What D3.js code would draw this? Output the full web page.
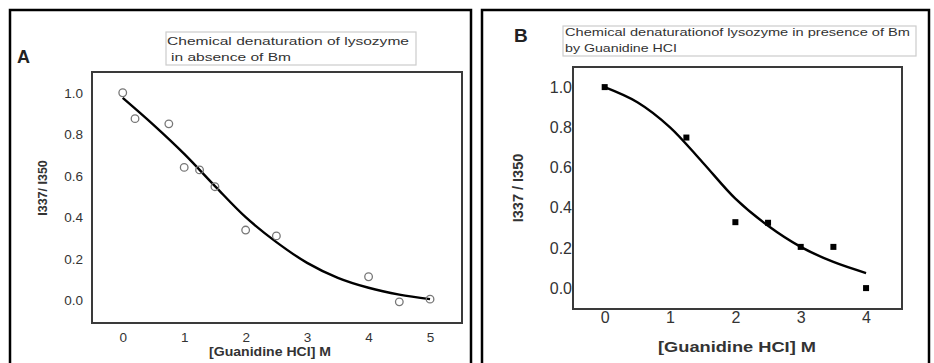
<!DOCTYPE html>
<html>
<head>
<meta charset="utf-8">
<script src="https://cdn.jsdelivr.net/npm/d3@7"></script>
<style>
  body { margin: 0; background: #fff; }
  svg { display: block; font-family: "Liberation Sans", Arial, sans-serif; }
</style>
</head>
<body>
<svg id="chart" width="934" height="363"></svg>
<script>
// panel A: absence of Bm (open circles)
const concA = [0, 0.2, 0.75, 1.0, 1.25, 1.5, 2.0, 2.5, 4.0, 4.5, 5.0];
const ratioA = [1.0, 0.875, 0.85, 0.64, 0.628, 0.547, 0.338, 0.31, 0.113, -0.008, 0.005];
const fitConcA = [0, 0.5, 1, 1.5, 2, 2.5, 3, 3.5, 4, 4.5, 5];
const fitRatioA = [0.975, 0.845, 0.705, 0.55, 0.40, 0.28, 0.18, 0.108, 0.06, 0.027, 0.005];
const xTicksA = [0, 1, 2, 3, 4, 5];

// panel B: presence of Bm (filled squares)
const concB = [0, 1.25, 2.0, 2.5, 3.0, 3.5, 4.0];
const ratioB = [1.0, 0.749, 0.328, 0.325, 0.205, 0.205, 0.0];
const fitConcB = [0, 0.5, 1, 1.5, 2, 2.5, 3, 3.5, 4];
const fitRatioB = [1.0, 0.925, 0.80, 0.625, 0.445, 0.31, 0.205, 0.13, 0.075];
const xTicksB = [0, 1, 2, 3, 4];

const yTicks = [0, 0.2, 0.4, 0.6, 0.8, 1.0];

const svg = d3.select("#chart");

function drawPanel(p) {
    // outer panel frame
    svg.append("rect")
        .attr("x", p.frame[0]).attr("y", p.frame[1])
        .attr("width", p.frame[2]).attr("height", p.frame[3])
        .attr("fill", "none").attr("stroke", "#000").attr("stroke-width", 2.5);

    const x = d3.scaleLinear().domain(p.xDomain).range([p.box.left, p.box.right]);
    const y = d3.scaleLinear().domain(p.yDomain).range([p.box.bottom, p.box.top]);

    const g = svg.append("g");

    // tick labels only, no tick marks
    const xAxis = g.append("g")
        .attr("transform", `translate(0,${p.xLabelY})`)
        .call(d3.axisBottom(x).tickValues(p.xTicks).tickFormat(d3.format("d")).tickSize(0).tickPadding(0));
    xAxis.select(".domain").remove();
    xAxis.selectAll("text")
        .attr("font-size", p.tickFont).attr("fill", "#333")
        .attr("font-family", null).attr("dy", "0.35em").attr("y", 0);

    const yAxis = g.append("g")
        .attr("transform", `translate(${p.yLabelX},0)`)
        .call(d3.axisLeft(y).tickValues(yTicks).tickFormat(d3.format(".1f")).tickSize(0).tickPadding(0));
    yAxis.select(".domain").remove();
    yAxis.selectAll("text")
        .attr("font-size", p.tickFont).attr("fill", "#333")
        .attr("font-family", null);

    // plot box
    g.append("rect")
        .attr("x", p.box.left).attr("y", p.box.top)
        .attr("width", p.box.right - p.box.left).attr("height", p.box.bottom - p.box.top)
        .attr("fill", "none").attr("stroke", "#3a3a3a").attr("stroke-width", 2);

    // fitted curve
    const line = d3.line()
        .x(d => x(d[0])).y(d => y(d[1]))
        .curve(d3.curveCatmullRom.alpha(0.5));
    g.append("path")
        .datum(d3.zip(p.fitX, p.fitY))
        .attr("d", line)
        .attr("fill", "none").attr("stroke", "#000").attr("stroke-width", 2.4);

    // data markers
    const pts = d3.zip(p.dataX, p.dataY);
    if (p.marker === "circle") {
        g.selectAll("circle.pt").data(pts).enter().append("circle")
            .attr("class", "pt")
            .attr("cx", d => x(d[0])).attr("cy", d => y(d[1])).attr("r", 3.8)
            .attr("fill", "none").attr("stroke", "#777").attr("stroke-width", 1.3);
    } else {
        g.selectAll("rect.pt").data(pts).enter().append("rect")
            .attr("class", "pt")
            .attr("x", d => x(d[0]) - 3).attr("y", d => y(d[1]) - 3)
            .attr("width", 6).attr("height", 6)
            .attr("fill", "#000");
    }

    // axis titles
    g.append("text")
        .attr("x", p.xTitle[0]).attr("y", p.xTitle[1])
        .attr("text-anchor", "middle").attr("font-weight", "bold")
        .attr("font-size", p.xTitle[2]).attr("fill", "#333")
        .attr("textLength", p.xTitle[3]).attr("lengthAdjust", "spacingAndGlyphs")
        .text("[Guanidine HCI] M");
    g.append("text")
        .attr("transform", `translate(${p.yTitle[0]},${p.yTitle[1]}) rotate(-90)`)
        .attr("text-anchor", "middle").attr("font-weight", "bold")
        .attr("font-size", p.yTitle[2]).attr("fill", "#333")
        .attr("dy", "0.35em")
        .text(p.yTitleText);

    // panel letter
    g.append("text")
        .attr("x", p.letter[0]).attr("y", p.letter[1])
        .attr("font-weight", "bold").attr("font-size", p.letter[2]).attr("fill", "#222")
        .text(p.letterText);

    // title box
    g.append("rect")
        .attr("x", p.titleBox[0]).attr("y", p.titleBox[1])
        .attr("width", p.titleBox[2]).attr("height", p.titleBox[3])
        .attr("fill", "#fff").attr("stroke", "#ccc").attr("stroke-width", 1.2);
    p.titleLines.forEach(t => {
        g.append("text")
            .attr("x", t.x).attr("y", t.y)
            .attr("font-size", p.titleFont).attr("fill", "#333")
            .attr("textLength", t.len).attr("lengthAdjust", "spacingAndGlyphs")
            .text(t.text);
    });
}

drawPanel({
    frame: [10, 10, 461, 400],
    box: { left: 92, right: 462, top: 72, bottom: 323 },
    xDomain: [-0.5, 5.52], yDomain: [-0.11, 1.1],
    xTicks: xTicksA, xLabelY: 337, yLabelX: 83, tickFont: 13.5,
    fitX: fitConcA, fitY: fitRatioA, dataX: concA, dataY: ratioA, marker: "circle",
    xTitle: [270, 356, 12, 122],
    yTitle: [43, 188, 12.5], yTitleText: "I337/ I350",
    letter: [17, 63, 18], letterText: "A",
    titleBox: [166, 32, 250, 33], titleFont: 11,
    titleLines: [
        { x: 167, y: 45, text: "Chemical denaturation of lysozyme", len: 242 },
        { x: 171, y: 61, text: "in absence of Bm", len: 120 }
    ]
});

drawPanel({
    frame: [482, 10, 447, 400],
    box: { left: 573, right: 902, top: 67, bottom: 309 },
    xDomain: [-0.485, 4.55], yDomain: [-0.104, 1.1],
    xTicks: xTicksB, xLabelY: 317, yLabelX: 572, tickFont: 16,
    fitX: fitConcB, fitY: fitRatioB, dataX: concB, dataY: ratioB, marker: "square",
    xTitle: [737, 352, 15, 158],
    yTitle: [518, 188, 14.5], yTitleText: "I337 / I350",
    letter: [514, 42, 19], letterText: "B",
    titleBox: [563, 26, 353, 30], titleFont: 10.5,
    titleLines: [
        { x: 565, y: 36, text: "Chemical denaturationof lysozyme in presence of Bm", len: 345 },
        { x: 565, y: 52, text: "by Guanidine HCI", len: 112 }
    ]
});
</script>
</body>
</html>
